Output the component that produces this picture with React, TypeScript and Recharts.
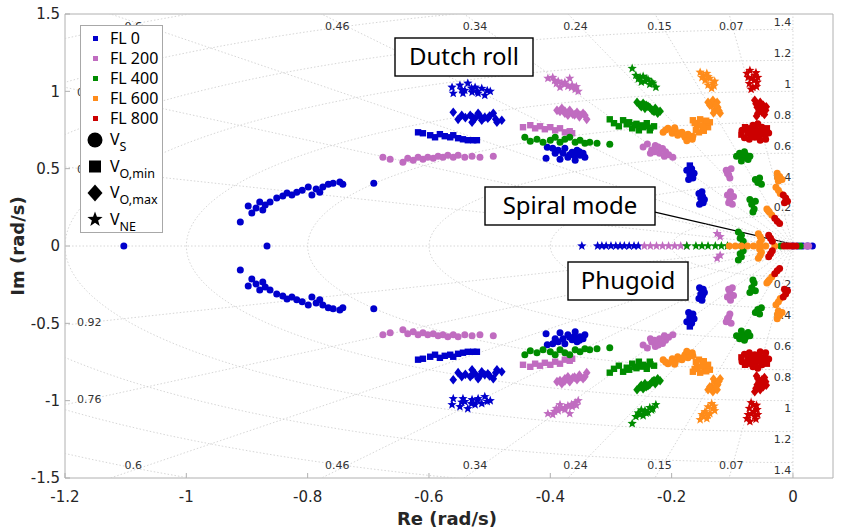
import { ScatterChart, Scatter, XAxis, YAxis, ReferenceLine } from 'recharts';

type Pt = [number, number];
type Kind = 'circle' | 'square' | 'diamond' | 'star';

// axis ranges and ticks
const xTicks = [-1.2, -1, -0.8, -0.6, -0.4, -0.2, 0];
const yTicks = [-1.5, -1, -0.5, 0, 0.5, 1, 1.5];
const X_MIN = -1.2, X_MAX = 0.066, Y_MIN = -1.5, Y_MAX = 1.5;

// s-plane grid (damping ratio rays, natural frequency circles)
const zetaGrid = [0.07, 0.15, 0.24, 0.34, 0.46, 0.6, 0.76, 0.92];
const wnGrid = [0.2, 0.4, 0.6, 0.8, 1, 1.2, 1.4, 1.6, 1.8];
const wnLabelled = [0.2, 0.4, 0.6, 0.8, 1, 1.2, 1.4];

// ---- poles, upper half plane (conjugates are mirrored) ----
// FL 0
const fl0Circle: Pt[] = [
  [-0.911, 0.155], [-0.898, 0.258], [-0.892, 0.213], [-0.885, 0.245], [-0.879, 0.284], [-0.874, 0.232],
  [-0.87, 0.265], [-0.862, 0.284], [-0.851, 0.31], [-0.841, 0.323], [-0.834, 0.342], [-0.826, 0.329],
  [-0.818, 0.348], [-0.809, 0.361], [-0.799, 0.381], [-0.793, 0.329], [-0.786, 0.368], [-0.78, 0.348],
  [-0.775, 0.381], [-0.766, 0.4], [-0.758, 0.406], [-0.747, 0.413], [-0.742, 0.4], [-0.691, 0.406],
  [-0.407, 0.568], [-0.405, 0.639], [-0.396, 0.632], [-0.384, 0.561], [-0.387, 0.619], [-0.376, 0.632],
  [-0.371, 0.574], [-0.364, 0.606], [-0.359, 0.555], [-0.356, 0.619], [-0.351, 0.587], [-0.346, 0.6],
  [-0.343, 0.574], [-0.379, 0.6], [-0.368, 0.59], [-0.36, 0.585], [-0.352, 0.61], [-0.392, 0.6],
  [-0.175, 0.49], [-0.17, 0.46], [-0.165, 0.44], [-0.163, 0.47], [-0.172, 0.43], [-0.167, 0.5],
  [-0.155, 0.34], [-0.152, 0.31], [-0.148, 0.28], [-0.15, 0.35], [-0.146, 0.3], [-0.154, 0.27], [-0.149, 0.32],
];
const fl0Square: Pt[] = [
  [-0.618, 0.735], [-0.61, 0.729], [-0.598, 0.716], [-0.59, 0.703], [-0.582, 0.723], [-0.574, 0.71],
  [-0.565, 0.703], [-0.56, 0.716], [-0.552, 0.697], [-0.544, 0.69], [-0.536, 0.684], [-0.527, 0.684],
  [-0.521, 0.684], [-0.17, 0.52],
];
const fl0Diamond: Pt[] = [
  [-0.56, 0.865], [-0.546, 0.845], [-0.552, 0.819], [-0.532, 0.845], [-0.524, 0.826], [-0.519, 0.858],
  [-0.513, 0.813], [-0.508, 0.832], [-0.503, 0.826], [-0.494, 0.858], [-0.488, 0.8], [-0.48, 0.813], [-0.529, 0.8],
  [-0.54, 0.83], [-0.528, 0.83], [-0.516, 0.84], [-0.5, 0.84], [-0.49, 0.82],
];
const fl0Star: Pt[] = [
  [-0.562, 1.026], [-0.56, 0.987], [-0.549, 1.039], [-0.541, 1.006], [-0.536, 1.052], [-0.529, 0.994],
  [-0.524, 1.026], [-0.519, 0.987], [-0.513, 1.019], [-0.508, 0.974], [-0.499, 1.0], [-0.544, 0.987],
  [-0.53, 1.02], [-0.52, 1.0], [-0.504, 1.005], [-0.546, 1.01],
];
const fl0RealCircle = [-1.103, -0.867, 0.0, 0.008, 0.016, 0.024, 0.032];
const fl0RealStar = [-0.348, -0.322, -0.315, -0.308, -0.3, -0.292, -0.285, -0.278, -0.27, -0.262, -0.255];

// FL 200
const fl200Circle: Pt[] = [
  [-0.676, 0.574], [-0.664, 0.561], [-0.643, 0.542], [-0.635, 0.568], [-0.626, 0.555], [-0.618, 0.574],
  [-0.61, 0.561], [-0.602, 0.574], [-0.593, 0.568], [-0.585, 0.581], [-0.577, 0.574], [-0.569, 0.587],
  [-0.56, 0.574], [-0.552, 0.587], [-0.541, 0.574], [-0.529, 0.581], [-0.516, 0.574], [-0.494, 0.581],
  [-0.247, 0.64], [-0.24, 0.66], [-0.233, 0.62], [-0.227, 0.65], [-0.22, 0.6], [-0.215, 0.63],
  [-0.21, 0.61], [-0.205, 0.59], [-0.198, 0.574], [-0.235, 0.6], [-0.222, 0.64], [-0.228, 0.61], [-0.212, 0.58],
  [-0.11, 0.49], [-0.106, 0.46], [-0.104, 0.44], [-0.108, 0.47], [-0.102, 0.5],
  [-0.108, 0.33], [-0.104, 0.3], [-0.1, 0.27], [-0.106, 0.28], [-0.098, 0.32], [-0.103, 0.35],
];
const fl200Square: Pt[] = [
  [-0.445, 0.768], [-0.433, 0.781], [-0.425, 0.761], [-0.417, 0.774], [-0.409, 0.755], [-0.4, 0.768],
  [-0.392, 0.748], [-0.384, 0.761], [-0.376, 0.735], [-0.368, 0.742], [-0.364, 0.729],
];
const fl200Diamond: Pt[] = [
  [-0.389, 0.877], [-0.381, 0.89], [-0.376, 0.858], [-0.368, 0.877], [-0.363, 0.852], [-0.356, 0.865],
  [-0.351, 0.845], [-0.346, 0.858], [-0.34, 0.819], [-0.371, 0.845],
  [-0.384, 0.87], [-0.376, 0.872], [-0.36, 0.848], [-0.352, 0.835], [-0.343, 0.845],
];
const fl200Star: Pt[] = [
  [-0.404, 1.084], [-0.396, 1.09], [-0.387, 1.065], [-0.381, 1.052], [-0.376, 1.058], [-0.371, 1.032],
  [-0.364, 1.039], [-0.359, 1.013], [-0.354, 1.0], [-0.384, 1.026], [-0.368, 1.084],
  [-0.393, 1.07], [-0.376, 1.045], [-0.365, 1.025], [-0.357, 1.03], [-0.39, 1.05],
  [-0.125, 0.08], [-0.12, 0.06],
];
const fl200RealCircle = [0.022, 0.026];
const fl200RealStar = [-0.245, -0.235, -0.225, -0.215, -0.205, -0.195, -0.185, -0.175];

// FL 400
const fl400Circle: Pt[] = [
  [-0.442, 0.703], [-0.433, 0.677], [-0.422, 0.69], [-0.412, 0.671], [-0.4, 0.684], [-0.392, 0.703],
  [-0.384, 0.671], [-0.376, 0.69], [-0.368, 0.703], [-0.359, 0.671], [-0.351, 0.684], [-0.343, 0.665],
  [-0.335, 0.671], [-0.323, 0.665], [-0.302, 0.658],
  [-0.093, 0.58], [-0.088, 0.6], [-0.083, 0.57], [-0.078, 0.59], [-0.074, 0.56], [-0.085, 0.55],
  [-0.071, 0.58], [-0.08, 0.61], [-0.062, 0.43], [-0.058, 0.41], [-0.055, 0.44], [-0.052, 0.4],
  [-0.071, 0.3], [-0.068, 0.27], [-0.064, 0.24], [-0.062, 0.29], [-0.066, 0.22],
  [-0.09, 0.09], [-0.085, 0.07], [-0.087, 0.05], [-0.082, 0.03],
];
const fl400Square: Pt[] = [
  [-0.302, 0.819], [-0.295, 0.794], [-0.287, 0.774], [-0.28, 0.813], [-0.274, 0.787], [-0.265, 0.761],
  [-0.26, 0.781], [-0.254, 0.748], [-0.247, 0.768], [-0.241, 0.794], [-0.236, 0.748], [-0.229, 0.774],
  [-0.27, 0.8], [-0.258, 0.79], [-0.25, 0.78], [-0.243, 0.775], [-0.235, 0.765],
];
const fl400Diamond: Pt[] = [
  [-0.257, 0.929], [-0.252, 0.91], [-0.247, 0.923], [-0.244, 0.89], [-0.239, 0.903], [-0.232, 0.877],
  [-0.227, 0.89], [-0.223, 0.858], [-0.219, 0.871],
  [-0.25, 0.9], [-0.242, 0.91], [-0.236, 0.895], [-0.229, 0.87], [-0.225, 0.875],
];
const fl400Star: Pt[] = [
  [-0.265, 1.148], [-0.259, 1.103], [-0.252, 1.09], [-0.247, 1.097], [-0.244, 1.065], [-0.239, 1.077],
  [-0.236, 1.045], [-0.231, 1.052], [-0.226, 1.026],
  [-0.255, 1.08], [-0.242, 1.08], [-0.233, 1.06], [-0.25, 1.06],
];
const fl400RealCircle = [-0.085, -0.02, 0.012];
const fl400RealStar = [-0.175, -0.16, -0.15, -0.14, -0.128, -0.118, -0.108];

// FL 600
const fl600Circle: Pt[] = [
  [-0.214, 0.735], [-0.206, 0.761], [-0.199, 0.729], [-0.194, 0.748], [-0.19, 0.716], [-0.183, 0.735],
  [-0.178, 0.703], [-0.173, 0.723], [-0.166, 0.69], [-0.165, 0.71],
  [-0.21, 0.75], [-0.2, 0.745], [-0.187, 0.73], [-0.18, 0.72], [-0.17, 0.705], [-0.195, 0.765], [-0.175, 0.68],
  [-0.026, 0.47], [-0.022, 0.45], [-0.018, 0.43], [-0.024, 0.42], [-0.028, 0.38], [-0.024, 0.36],
  [-0.021, 0.34], [-0.043, 0.24], [-0.039, 0.22], [-0.035, 0.2], [-0.041, 0.23], [-0.025, 0.44],
  [-0.057, 0.08], [-0.054, 0.06], [-0.052, 0.04], [-0.055, 0.02],
];
const fl600Square: Pt[] = [
  [-0.165, 0.813], [-0.158, 0.781], [-0.153, 0.819], [-0.148, 0.761], [-0.145, 0.794], [-0.14, 0.768],
  [-0.137, 0.8], [-0.155, 0.735],
  [-0.162, 0.795], [-0.15, 0.78], [-0.143, 0.81], [-0.16, 0.75], [-0.147, 0.745],
];
const fl600Diamond: Pt[] = [
  [-0.14, 0.929], [-0.134, 0.91], [-0.132, 0.942], [-0.129, 0.877], [-0.124, 0.897], [-0.12, 0.858], [-0.125, 0.929],
  [-0.137, 0.91], [-0.127, 0.91], [-0.122, 0.875], [-0.131, 0.86],
];
const fl600Star: Pt[] = [
  [-0.153, 1.123], [-0.148, 1.103], [-0.142, 1.116], [-0.145, 1.071], [-0.137, 1.084], [-0.132, 1.052],
  [-0.134, 1.019], [-0.129, 1.065],
  [-0.15, 1.09], [-0.14, 1.095], [-0.14, 1.04], [-0.13, 1.035],
];
const fl600RealCircle = [-0.105, -0.095, -0.085, -0.075, -0.065, -0.055, -0.045, -0.03];

// FL 800
const fl800Circle: Pt[] = [
  [-0.084, 0.748], [-0.074, 0.729], [-0.066, 0.781], [-0.063, 0.703], [-0.054, 0.684], [-0.046, 0.716],
  [-0.051, 0.768], [-0.06, 0.73],
  [-0.08, 0.7], [-0.075, 0.75], [-0.07, 0.74], [-0.065, 0.72], [-0.062, 0.76], [-0.056, 0.71],
  [-0.05, 0.74], [-0.045, 0.69], [-0.04, 0.73], [-0.058, 0.79], [-0.072, 0.69],
  [-0.016, 0.33], [-0.012, 0.31], [-0.009, 0.29], [-0.014, 0.28], [-0.03, 0.18], [-0.026, 0.16], [-0.022, 0.145],
  [-0.04, 0.07], [-0.037, 0.05], [-0.034, 0.03],
];
const fl800Square: Pt[] = [
  [-0.079, 0.768], [-0.071, 0.761], [-0.058, 0.748], [-0.043, 0.761], [-0.068, 0.71],
  [-0.085, 0.72], [-0.062, 0.74], [-0.048, 0.75],
];
const fl800Diamond: Pt[] = [
  [-0.063, 0.942], [-0.059, 0.897], [-0.054, 0.929], [-0.051, 0.865], [-0.049, 0.91], [-0.045, 0.877], [-0.058, 0.858],
  [-0.061, 0.92], [-0.056, 0.88], [-0.052, 0.9], [-0.047, 0.85], [-0.06, 0.84], [-0.044, 0.9],
];
const fl800Star: Pt[] = [
  [-0.076, 1.116], [-0.071, 1.135], [-0.068, 1.084], [-0.063, 1.103], [-0.059, 1.058], [-0.066, 1.026],
  [-0.058, 1.09], [-0.069, 1.013],
  [-0.074, 1.09], [-0.064, 1.07], [-0.061, 1.12], [-0.072, 1.05], [-0.06, 1.03],
];
const fl800RealCircle = [-0.015, -0.01, -0.005, 0, 0.005];

const COLORS = { fl0: '#0000cc', fl200: '#c06cc0', fl400: '#008c00', fl600: '#ff8c1a', fl800: '#cc0000' };

const withConj = (pts: Pt[]) => pts.flatMap(([re, im]) => [{ x: re, y: im }, { x: re, y: -im }]);
const onAxis = (res: number[]) => res.map((re) => ({ x: re, y: 0 }));

const series: { color: string; kind: Kind; data: { x: number; y: number }[] }[] = [
  { color: COLORS.fl0, kind: 'circle', data: [...withConj(fl0Circle), ...onAxis(fl0RealCircle)] },
  { color: COLORS.fl0, kind: 'square', data: withConj(fl0Square) },
  { color: COLORS.fl0, kind: 'diamond', data: withConj(fl0Diamond) },
  { color: COLORS.fl0, kind: 'star', data: [...withConj(fl0Star), ...onAxis(fl0RealStar)] },
  { color: COLORS.fl200, kind: 'circle', data: [...withConj(fl200Circle), ...onAxis(fl200RealCircle)] },
  { color: COLORS.fl200, kind: 'square', data: withConj(fl200Square) },
  { color: COLORS.fl200, kind: 'diamond', data: withConj(fl200Diamond) },
  { color: COLORS.fl200, kind: 'star', data: [...withConj(fl200Star), ...onAxis(fl200RealStar)] },
  { color: COLORS.fl400, kind: 'circle', data: [...withConj(fl400Circle), ...onAxis(fl400RealCircle)] },
  { color: COLORS.fl400, kind: 'square', data: withConj(fl400Square) },
  { color: COLORS.fl400, kind: 'diamond', data: withConj(fl400Diamond) },
  { color: COLORS.fl400, kind: 'star', data: [...withConj(fl400Star), ...onAxis(fl400RealStar)] },
  { color: COLORS.fl600, kind: 'circle', data: [...withConj(fl600Circle), ...onAxis(fl600RealCircle)] },
  { color: COLORS.fl600, kind: 'square', data: withConj(fl600Square) },
  { color: COLORS.fl600, kind: 'diamond', data: withConj(fl600Diamond) },
  { color: COLORS.fl600, kind: 'star', data: withConj(fl600Star) },
  { color: COLORS.fl800, kind: 'circle', data: [...withConj(fl800Circle), ...onAxis(fl800RealCircle)] },
  { color: COLORS.fl800, kind: 'square', data: withConj(fl800Square) },
  { color: COLORS.fl800, kind: 'diamond', data: withConj(fl800Diamond) },
  { color: COLORS.fl800, kind: 'star', data: withConj(fl800Star) },
];

// grid geometry
const rayLines = [
  ...zetaGrid.map((z) => {
    const s = Math.sqrt(1 - z * z);
    return [{ x: -3 * z, y: 3 * s }, { x: 0, y: 0 }, { x: -3 * z, y: -3 * s }];
  }),
  [{ x: -3, y: 0 }, { x: 0, y: 0 }],
  [{ x: 0, y: 3 }, { x: 0, y: -3 }],
];
const circleLines = wnGrid.map((wn) => {
  const pts = [];
  for (let a = 90; a <= 270; a += 2) {
    const t = (a * Math.PI) / 180;
    pts.push({ x: wn * Math.cos(t), y: wn * Math.sin(t) });
  }
  return pts;
});

const zetaLabels = zetaGrid.flatMap((z) => {
  const s = Math.sqrt(1 - z * z);
  const topRe = (-1.45 * z) / s;
  if (topRe > -1.16) {
    return [
      { x: topRe, y: 1.42, label: String(z), anchor: 'middle' },
      { x: topRe, y: -1.42, label: String(z), anchor: 'middle' },
    ];
  }
  const im = (1.16 * s) / z;
  return [
    { x: -1.16, y: im, label: String(z), anchor: 'middle' },
    { x: -1.16, y: -im, label: String(z), anchor: 'middle' },
  ];
});
const wnLabels = wnLabelled.flatMap((wn) => [
  { x: -0.003, y: wn + 0.048, label: String(wn), anchor: 'end' },
  { x: -0.003, y: -wn - 0.048, label: String(wn), anchor: 'end' },
]);

const GRID = '#cccccc';
const AXIS = '#b0b0b0';

const Marker = ({ cx, cy, fill, kind }: any) => {
  if (cx == null || cy == null) return <g />;
  if (kind === 'circle') return <circle cx={cx} cy={cy} r={3.5} fill={fill} />;
  if (kind === 'square') return <rect x={cx - 3.2} y={cy - 3.2} width={6.4} height={6.4} fill={fill} />;
  if (kind === 'diamond')
    return <polygon points={`${cx},${cy - 4.8} ${cx + 3.8},${cy} ${cx},${cy + 4.8} ${cx - 3.8},${cy}`} fill={fill} />;
  const pts: string[] = [];
  for (let i = 0; i < 10; i++) {
    const r = i % 2 === 0 ? 4.9 : 2.1;
    const a = -Math.PI / 2 + (i * Math.PI) / 5;
    pts.push(`${cx + r * Math.cos(a)},${cy + r * Math.sin(a)}`);
  }
  return <polygon points={pts.join(' ')} fill={fill} />;
};

const GridLabel = (p: any) => (
  <text x={p.cx} y={p.cy} dy="0.35em" textAnchor={p.payload.anchor} fontSize={11}
    fontFamily="DejaVu Sans" fill="#333">
    {p.payload.label}
  </text>
);

const legendFL = [
  { name: 'FL 0', color: COLORS.fl0 },
  { name: 'FL 200', color: COLORS.fl200 },
  { name: 'FL 400', color: COLORS.fl400 },
  { name: 'FL 600', color: COLORS.fl600 },
  { name: 'FL 800', color: COLORS.fl800 },
];
const legendSpeed: { kind: Kind; sub: string }[] = [
  { kind: 'circle', sub: 'S' },
  { kind: 'square', sub: 'O,min' },
  { kind: 'diamond', sub: 'O,max' },
  { kind: 'star', sub: 'NE' },
];

const BigMarker = ({ kind, cx, cy }: { kind: Kind; cx: number; cy: number }) => {
  if (kind === 'circle') return <circle cx={cx} cy={cy} r={7.5} fill="#000" />;
  if (kind === 'square') return <rect x={cx - 6} y={cy - 6} width={12} height={12} fill="#000" />;
  if (kind === 'diamond')
    return <polygon points={`${cx},${cy - 8.5} ${cx + 7.5},${cy} ${cx},${cy + 8.5} ${cx - 7.5},${cy}`} fill="#000" />;
  const pts: string[] = [];
  for (let i = 0; i < 10; i++) {
    const r = i % 2 === 0 ? 8 : 3.3;
    const a = -Math.PI / 2 + (i * Math.PI) / 5;
    pts.push(`${cx + r * Math.cos(a)},${cy + r * Math.sin(a)}`);
  }
  return <polygon points={pts.join(' ')} fill="#000" />;
};

const Box = ({ x, y, w, h, text }: { x: number; y: number; w: number; h: number; text: string }) => (
  <g>
    <rect x={x} y={y} width={w} height={h} fill="#fff" stroke="#000" strokeWidth={1.4} />
    <text x={x + w / 2} y={y + h / 2} dy="0.35em" textAnchor="middle" fontSize={24} fontFamily="Noto Sans" fill="#000">
      {text}
    </text>
  </g>
);

const App = () => {
  return (
    <div style={{ position: 'absolute', left: 0, top: 0, width: 843, height: 531, background: '#fff' }}>
      <ScatterChart width={843} height={531} margin={{ top: 14, right: 10, bottom: 13, left: 5 }}>
        <XAxis type="number" dataKey="x" domain={[X_MIN, X_MAX]} ticks={xTicks} allowDataOverflow
          stroke={AXIS} tickSize={-5} tickMargin={18} height={40}
          tick={{ fill: '#262626', fontSize: 15, fontFamily: 'DejaVu Sans' }}
          tickFormatter={(v: number) => String(Number(v.toFixed(1)))} />
        <YAxis type="number" dataKey="y" domain={[Y_MIN, Y_MAX]} ticks={yTicks} allowDataOverflow
          stroke={AXIS} tickSize={-5} tickMargin={10} width={60}
          tick={{ fill: '#262626', fontSize: 15, fontFamily: 'DejaVu Sans' }}
          tickFormatter={(v: number) => String(Number(v.toFixed(1)))} />
        {[...rayLines, ...circleLines].map((pts, i) => (
          <Scatter key={`g-${i}`} data={pts} isAnimationActive={false} shape={() => <g />}
            line={{ stroke: GRID, strokeWidth: 0.8, strokeDasharray: '1.5 2' }} />
        ))}
        <Scatter data={[...zetaLabels, ...wnLabels]} isAnimationActive={false} shape={GridLabel} />
        {series.map((s, i) => (
          <Scatter key={`s-${i}`} data={s.data} isAnimationActive={false}
            shape={(p: any) => <Marker {...p} fill={s.color} kind={s.kind} />} />
        ))}
        <ReferenceLine y={Y_MAX} stroke={AXIS} />
        <ReferenceLine x={X_MAX} stroke={AXIS} />
        <ReferenceLine segment={[{ x: -0.2275, y: 0.219 }, { x: -0.0016, y: 0.013 }]} stroke="#000" strokeWidth={1.2} />
      </ScatterChart>
      <svg width={843} height={531} style={{ position: 'absolute', left: 0, top: 0, pointerEvents: 'none' }}>
        <Box x={395} y={38} w={138} h={38} text="Dutch roll" />
        <Box x={485} y={187} w={170} h={38} text="Spiral mode" />
        <Box x={568} y={262} w={120} h={38} text="Phugoid" />
        <rect x={80.5} y={25.5} width={82} height={207} fill="#fff" stroke="#a8a8a8" />
        {legendFL.map((e, i) => (
          <g key={e.name}>
            <rect x={93} y={36 + i * 20} width={5} height={5} fill={e.color} />
            <text x={110} y={43.5 + i * 20} fontSize={16} fontFamily="Noto Sans" fill="#000">{e.name}</text>
          </g>
        ))}
        {legendSpeed.map((e, i) => {
          const cy = 140 + i * 26.5;
          return (
            <g key={e.sub}>
              <BigMarker kind={e.kind} cx={95} cy={cy} />
              <text x={110} y={cy + 5} fontSize={16} fontFamily="Noto Sans" fill="#000">
                V<tspan fontSize={12.5} dy={6}>{e.sub}</tspan>
              </text>
            </g>
          );
        })}
        <text x={447} y={519} dy="0.35em" textAnchor="middle" fontSize={18} fontWeight="bold"
          fontFamily="DejaVu Sans" fill="#262626">Re (rad/s)</text>
        <text x={18} y={246} dy="0.35em" textAnchor="middle" fontSize={18} fontWeight="bold"
          fontFamily="DejaVu Sans" fill="#262626" transform="rotate(-90 18 246)">Im (rad/s)</text>
      </svg>
    </div>
  );
};

export default App;
